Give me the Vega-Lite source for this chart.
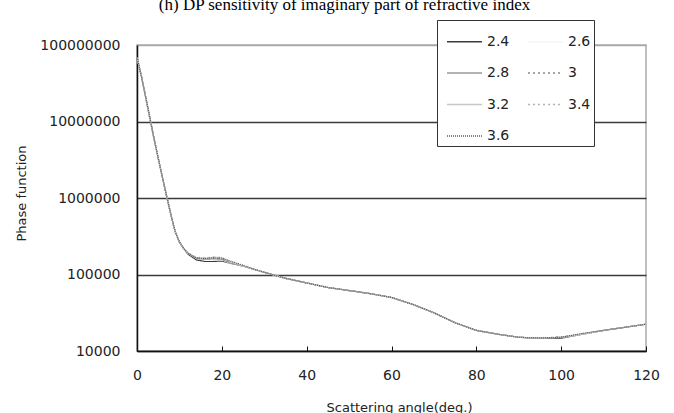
{
  "$schema": "https://vega.github.io/schema/vega-lite/v6.json",
  "autosize": {"type": "none"},
  "width": 509,
  "height": 306,
  "padding": {"left": 137, "top": 45, "right": 28, "bottom": 62},
  "background": "white",
  "title": {
    "text": "(h) DP sensitivity of imaginary part of refractive index",
    "font": "Liberation Serif",
    "fontSize": 17,
    "fontWeight": "normal",
    "color": "#000000",
    "anchor": "middle",
    "frame": "group",
    "dx": -47,
    "dy": 14,
    "baseline": "alphabetic",
    "offset": 7
  },
  "config": {
    "view": {"stroke": "#aaaaaa", "strokeWidth": 1.5},
    "axis": {
      "labelFont": "DejaVu Sans",
      "labelFontSize": 14,
      "labelColor": "#222222",
      "titleFont": "DejaVu Sans",
      "titleFontSize": 13,
      "titleFontWeight": "normal",
      "titleColor": "#222222",
      "domainColor": "#111111",
      "domainWidth": 1.5
    },
    "legend": {
      "columns": 2,
      "symbolType": "stroke",
      "symbolSize": 1225,
      "symbolStrokeWidth": 1.5,
      "symbolOffset": 6,
      "labelFont": "DejaVu Sans",
      "labelFontSize": 14,
      "labelColor": "#222222",
      "labelOffset": 4,
      "strokeColor": "#333333",
      "fillColor": "#ffffff",
      "padding": 3,
      "rowPadding": 5.5,
      "columnPadding": 11
    }
  },
  "data": {
    "values": [
      {"x":0,"s":"2.4","y":69200000},{"x":1,"s":"2.4","y":39800000},{"x":2,"s":"2.4","y":21400000},{"x":3,"s":"2.4","y":11200000},{"x":4,"s":"2.4","y":6030000},{"x":5,"s":"2.4","y":3310000},{"x":6,"s":"2.4","y":1860000},{"x":7,"s":"2.4","y":1050000},{"x":8,"s":"2.4","y":603000},{"x":9,"s":"2.4","y":363000},{"x":10,"s":"2.4","y":263000},{"x":11,"s":"2.4","y":219000},{"x":12,"s":"2.4","y":185000},{"x":14,"s":"2.4","y":155000},{"x":16,"s":"2.4","y":148000},{"x":18,"s":"2.4","y":148000},{"x":20,"s":"2.4","y":150000},{"x":22,"s":"2.4","y":140000},{"x":25,"s":"2.4","y":129000},{"x":28,"s":"2.4","y":115000},{"x":30,"s":"2.4","y":107000},{"x":35,"s":"2.4","y":89100},{"x":40,"s":"2.4","y":77600},{"x":45,"s":"2.4","y":67600},{"x":50,"s":"2.4","y":61700},{"x":55,"s":"2.4","y":56200},{"x":60,"s":"2.4","y":50100},{"x":65,"s":"2.4","y":40700},{"x":70,"s":"2.4","y":31600},{"x":75,"s":"2.4","y":23400},{"x":80,"s":"2.4","y":18600},{"x":85,"s":"2.4","y":16600},{"x":90,"s":"2.4","y":15100},{"x":95,"s":"2.4","y":14600},{"x":100,"s":"2.4","y":14700},{"x":105,"s":"2.4","y":16600},{"x":110,"s":"2.4","y":18600},{"x":115,"s":"2.4","y":20400},{"x":120,"s":"2.4","y":22400},

      {"x":0,"s":"2.6","y":69200000},{"x":1,"s":"2.6","y":39800000},{"x":2,"s":"2.6","y":21400000},{"x":3,"s":"2.6","y":11200000},{"x":4,"s":"2.6","y":6030000},{"x":5,"s":"2.6","y":3310000},{"x":6,"s":"2.6","y":1860000},{"x":7,"s":"2.6","y":1050000},{"x":8,"s":"2.6","y":603000},{"x":9,"s":"2.6","y":363000},{"x":10,"s":"2.6","y":263000},{"x":11,"s":"2.6","y":219000},{"x":12,"s":"2.6","y":190500},{"x":14,"s":"2.6","y":162000},{"x":16,"s":"2.6","y":155000},{"x":18,"s":"2.6","y":155000},{"x":20,"s":"2.6","y":155000},{"x":22,"s":"2.6","y":141000},{"x":25,"s":"2.6","y":129000},{"x":28,"s":"2.6","y":115000},{"x":30,"s":"2.6","y":107000},{"x":35,"s":"2.6","y":89100},{"x":40,"s":"2.6","y":77600},{"x":45,"s":"2.6","y":67600},{"x":50,"s":"2.6","y":61700},{"x":55,"s":"2.6","y":56200},{"x":60,"s":"2.6","y":50100},{"x":65,"s":"2.6","y":40700},{"x":70,"s":"2.6","y":31600},{"x":75,"s":"2.6","y":23400},{"x":80,"s":"2.6","y":18600},{"x":85,"s":"2.6","y":16600},{"x":90,"s":"2.6","y":15100},{"x":95,"s":"2.6","y":14800},{"x":100,"s":"2.6","y":15100},{"x":105,"s":"2.6","y":16600},{"x":110,"s":"2.6","y":18600},{"x":115,"s":"2.6","y":20400},{"x":120,"s":"2.6","y":22400},

      {"x":0,"s":"2.8","y":69200000},{"x":1,"s":"2.8","y":39800000},{"x":2,"s":"2.8","y":21400000},{"x":3,"s":"2.8","y":11200000},{"x":4,"s":"2.8","y":6030000},{"x":5,"s":"2.8","y":3310000},{"x":6,"s":"2.8","y":1860000},{"x":7,"s":"2.8","y":1050000},{"x":8,"s":"2.8","y":603000},{"x":9,"s":"2.8","y":363000},{"x":10,"s":"2.8","y":263000},{"x":11,"s":"2.8","y":219000},{"x":12,"s":"2.8","y":190500},{"x":14,"s":"2.8","y":162000},{"x":16,"s":"2.8","y":158000},{"x":18,"s":"2.8","y":160000},{"x":20,"s":"2.8","y":158000},{"x":22,"s":"2.8","y":141000},{"x":25,"s":"2.8","y":129000},{"x":28,"s":"2.8","y":115000},{"x":30,"s":"2.8","y":107000},{"x":35,"s":"2.8","y":89100},{"x":40,"s":"2.8","y":77600},{"x":45,"s":"2.8","y":67600},{"x":50,"s":"2.8","y":61700},{"x":55,"s":"2.8","y":56200},{"x":60,"s":"2.8","y":50100},{"x":65,"s":"2.8","y":40700},{"x":70,"s":"2.8","y":31600},{"x":75,"s":"2.8","y":23400},{"x":80,"s":"2.8","y":18600},{"x":85,"s":"2.8","y":16600},{"x":90,"s":"2.8","y":15100},{"x":95,"s":"2.8","y":14800},{"x":100,"s":"2.8","y":15100},{"x":105,"s":"2.8","y":16600},{"x":110,"s":"2.8","y":18600},{"x":115,"s":"2.8","y":20400},{"x":120,"s":"2.8","y":22400},

      {"x":0,"s":"3","y":69200000},{"x":1,"s":"3","y":39800000},{"x":2,"s":"3","y":21400000},{"x":3,"s":"3","y":11200000},{"x":4,"s":"3","y":6030000},{"x":5,"s":"3","y":3310000},{"x":6,"s":"3","y":1860000},{"x":7,"s":"3","y":1050000},{"x":8,"s":"3","y":603000},{"x":9,"s":"3","y":363000},{"x":10,"s":"3","y":263000},{"x":11,"s":"3","y":219000},{"x":12,"s":"3","y":190500},{"x":14,"s":"3","y":162000},{"x":16,"s":"3","y":160000},{"x":18,"s":"3","y":163000},{"x":20,"s":"3","y":160000},{"x":22,"s":"3","y":145000},{"x":25,"s":"3","y":129000},{"x":28,"s":"3","y":115000},{"x":30,"s":"3","y":107000},{"x":35,"s":"3","y":89100},{"x":40,"s":"3","y":77600},{"x":45,"s":"3","y":67600},{"x":50,"s":"3","y":61700},{"x":55,"s":"3","y":56200},{"x":60,"s":"3","y":50100},{"x":65,"s":"3","y":40700},{"x":70,"s":"3","y":31600},{"x":75,"s":"3","y":23400},{"x":80,"s":"3","y":18600},{"x":85,"s":"3","y":16600},{"x":90,"s":"3","y":15100},{"x":95,"s":"3","y":14800},{"x":100,"s":"3","y":15300},{"x":105,"s":"3","y":16600},{"x":110,"s":"3","y":18600},{"x":115,"s":"3","y":20400},{"x":120,"s":"3","y":22400},

      {"x":0,"s":"3.2","y":69200000},{"x":1,"s":"3.2","y":39800000},{"x":2,"s":"3.2","y":21400000},{"x":3,"s":"3.2","y":11200000},{"x":4,"s":"3.2","y":6030000},{"x":5,"s":"3.2","y":3310000},{"x":6,"s":"3.2","y":1860000},{"x":7,"s":"3.2","y":1050000},{"x":8,"s":"3.2","y":603000},{"x":9,"s":"3.2","y":363000},{"x":10,"s":"3.2","y":263000},{"x":11,"s":"3.2","y":219000},{"x":12,"s":"3.2","y":190500},{"x":14,"s":"3.2","y":166000},{"x":16,"s":"3.2","y":163000},{"x":18,"s":"3.2","y":168000},{"x":20,"s":"3.2","y":166000},{"x":22,"s":"3.2","y":147000},{"x":25,"s":"3.2","y":129000},{"x":28,"s":"3.2","y":115000},{"x":30,"s":"3.2","y":107000},{"x":35,"s":"3.2","y":89100},{"x":40,"s":"3.2","y":77600},{"x":45,"s":"3.2","y":67600},{"x":50,"s":"3.2","y":61700},{"x":55,"s":"3.2","y":56200},{"x":60,"s":"3.2","y":50100},{"x":65,"s":"3.2","y":40700},{"x":70,"s":"3.2","y":31600},{"x":75,"s":"3.2","y":23400},{"x":80,"s":"3.2","y":18600},{"x":85,"s":"3.2","y":16600},{"x":90,"s":"3.2","y":15100},{"x":95,"s":"3.2","y":14800},{"x":100,"s":"3.2","y":15100},{"x":105,"s":"3.2","y":16600},{"x":110,"s":"3.2","y":18600},{"x":115,"s":"3.2","y":20400},{"x":120,"s":"3.2","y":22400},

      {"x":0,"s":"3.4","y":69200000},{"x":1,"s":"3.4","y":39800000},{"x":2,"s":"3.4","y":21400000},{"x":3,"s":"3.4","y":11200000},{"x":4,"s":"3.4","y":6030000},{"x":5,"s":"3.4","y":3310000},{"x":6,"s":"3.4","y":1860000},{"x":7,"s":"3.4","y":1050000},{"x":8,"s":"3.4","y":603000},{"x":9,"s":"3.4","y":363000},{"x":10,"s":"3.4","y":263000},{"x":11,"s":"3.4","y":219000},{"x":12,"s":"3.4","y":190500},{"x":14,"s":"3.4","y":168000},{"x":16,"s":"3.4","y":165000},{"x":18,"s":"3.4","y":170000},{"x":20,"s":"3.4","y":167000},{"x":22,"s":"3.4","y":148000},{"x":25,"s":"3.4","y":131000},{"x":28,"s":"3.4","y":115000},{"x":30,"s":"3.4","y":107000},{"x":35,"s":"3.4","y":89100},{"x":40,"s":"3.4","y":77600},{"x":45,"s":"3.4","y":67600},{"x":50,"s":"3.4","y":61700},{"x":55,"s":"3.4","y":56200},{"x":60,"s":"3.4","y":50100},{"x":65,"s":"3.4","y":40700},{"x":70,"s":"3.4","y":31600},{"x":75,"s":"3.4","y":23400},{"x":80,"s":"3.4","y":18600},{"x":85,"s":"3.4","y":16600},{"x":90,"s":"3.4","y":15100},{"x":95,"s":"3.4","y":14800},{"x":100,"s":"3.4","y":15100},{"x":105,"s":"3.4","y":16600},{"x":110,"s":"3.4","y":18600},{"x":115,"s":"3.4","y":20400},{"x":120,"s":"3.4","y":22400},

      {"x":0,"s":"3.6","y":69200000},{"x":1,"s":"3.6","y":39800000},{"x":2,"s":"3.6","y":21400000},{"x":3,"s":"3.6","y":11600000},{"x":4,"s":"3.6","y":6030000},{"x":5,"s":"3.6","y":3310000},{"x":6,"s":"3.6","y":1860000},{"x":7,"s":"3.6","y":1050000},{"x":8,"s":"3.6","y":603000},{"x":9,"s":"3.6","y":363000},{"x":10,"s":"3.6","y":270000},{"x":11,"s":"3.6","y":219000},{"x":12,"s":"3.6","y":190500},{"x":14,"s":"3.6","y":165000},{"x":16,"s":"3.6","y":162000},{"x":18,"s":"3.6","y":165000},{"x":20,"s":"3.6","y":163000},{"x":22,"s":"3.6","y":150000},{"x":25,"s":"3.6","y":132000},{"x":28,"s":"3.6","y":115000},{"x":30,"s":"3.6","y":107000},{"x":35,"s":"3.6","y":89100},{"x":40,"s":"3.6","y":77600},{"x":45,"s":"3.6","y":67600},{"x":50,"s":"3.6","y":61700},{"x":55,"s":"3.6","y":56200},{"x":60,"s":"3.6","y":50100},{"x":65,"s":"3.6","y":40700},{"x":70,"s":"3.6","y":31600},{"x":75,"s":"3.6","y":23400},{"x":80,"s":"3.6","y":18600},{"x":85,"s":"3.6","y":16600},{"x":90,"s":"3.6","y":15100},{"x":95,"s":"3.6","y":14800},{"x":100,"s":"3.6","y":15100},{"x":105,"s":"3.6","y":17000},{"x":110,"s":"3.6","y":18600},{"x":115,"s":"3.6","y":20400},{"x":120,"s":"3.6","y":22400}
    ]
  },
  "mark": {"type": "line", "strokeWidth": 1.2, "clip": true},
  "encoding": {
    "x": {
      "field": "x",
      "type": "quantitative",
      "scale": {"domain": [0, 120], "nice": false, "zero": false},
      "axis": {
        "values": [0, 20, 40, 60, 80, 100, 120],
        "grid": false,
        "ticks": true,
        "tickSize": -5,
        "tickColor": "#111111",
        "labelBaseline": "alphabetic",
        "labelPadding": 33,
        "labelFlush": false,
        "title": "Scattering angle(deg.)",
        "titleX": 262,
        "titleY": 60,
        "titleBaseline": "alphabetic",
        "titleAlign": "center"
      }
    },
    "y": {
      "field": "y",
      "type": "quantitative",
      "scale": {"type": "log", "domain": [10000, 100000000], "nice": false},
      "axis": {
        "values": [10000, 100000, 1000000, 10000000, 100000000],
        "format": "d",
        "grid": true,
        "gridColor": {"condition": {"test": "datum.value >= 100000000", "value": "#aaaaaa"}, "value": "#3a3a3a"},
        "gridWidth": 1.5,
        "ticks": false,
        "labelPadding": 17,
        "labelBaseline": "middle",
        "title": "Phase function",
        "titleAngle": -90,
        "titleX": -116,
        "titleY": 148,
        "titleAlign": "center",
        "titleBaseline": "middle"
      }
    },
    "color": {
      "field": "s",
      "type": "nominal",
      "scale": {
        "domain": ["2.4", "2.8", "3.2", "3.6", "2.6", "3", "3.4"],
        "range": ["#3a3a3a", "#9a9a9a", "#c8c8c8", "#5a5a5a", "#f6f6f6", "#8a8a8a", "#b4b4b4"]
      },
      "legend": {"title": null, "orient": "none", "legendX": 300, "legendY": -25}
    },
    "strokeDash": {
      "field": "s",
      "type": "nominal",
      "scale": {
        "domain": ["2.4", "2.8", "3.2", "3.6", "2.6", "3", "3.4"],
        "range": [[1, 0], [1, 0], [1, 0], [1, 1], [1, 0], [2, 3], [2, 3]]
      },
      "legend": {"title": null, "orient": "none", "legendX": 300, "legendY": -25}
    }
  }
}
